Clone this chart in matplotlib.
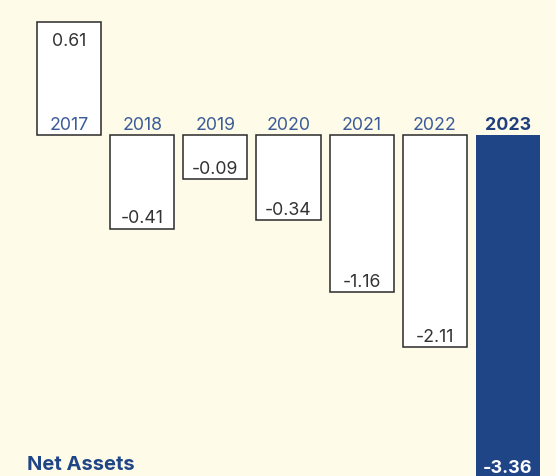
import numpy as np
import matplotlib
matplotlib.use("Agg")
import matplotlib.pyplot as plt
import matplotlib.transforms as mtransforms

years = ["2017", "2018", "2019", "2020", "2021", "2022", "2023"]
values = [0.61, -0.41, -0.09, -0.34, -1.16, -2.11, -3.36]
title = "Net Assets"

BG = "#fefbe8"
BLUE = "#1f4586"
YEAR_BLUE = "#3b5c98"
TEXT = "#333333"

plt.rcParams["font.family"] = ["Inter", "DejaVu Sans"]

fig = plt.figure(figsize=(5.56, 4.77), dpi=100, facecolor=BG)
ax = fig.add_axes([0, 0, 1, 1])
ax.set_facecolor(BG)
ax.axis("off")

def fwd(v):
    v = np.asarray(v, dtype=float)
    return np.sign(v) * np.sqrt(np.abs(v))

def inv(u):
    u = np.asarray(u, dtype=float)
    return np.sign(u) * u ** 2

ax.set_yscale("function", functions=(fwd, inv))
ax.set_xlim(-0.943, 6.656)
ax.set_ylim(-5.48, 0.880)
ymin = ax.get_ylim()[0]

x = np.arange(len(years))
width = 0.875
n = len(years)

# regular bars
ax.bar(x[:-1], values[:-1], width=width, color="white", edgecolor="#2a2a2a",
       linewidth=1.1, zorder=2)
# total bar (runs to the bottom of the panel)
ax.bar(x[-1], ymin, width=width, color=BLUE, edgecolor=BLUE, linewidth=0, zorder=2)

trans = mtransforms.blended_transform_factory(ax.transData, ax.transAxes)
for i, (yr, v) in enumerate(zip(years, values)):
    last = i == n - 1
    ax.annotate(yr, (x[i], 0), xytext=(0, 4.5), textcoords="offset points",
                ha="center", va="baseline", fontsize=12.8,
                color=("#1f3f7f" if last else YEAR_BLUE),
                fontweight=("bold" if last else "normal"), zorder=3)
    if last:
        ax.text(x[i], 0.009, f"{v:.2f}", transform=trans, ha="center", va="baseline",
                fontsize=13, fontweight="bold", color="white", zorder=3)
    elif v >= 0:
        ax.annotate(f"{v:.2f}", (x[i], v), xytext=(0, -7), textcoords="offset points",
                    ha="center", va="top", fontsize=12.8, color=TEXT, zorder=3)
    else:
        ax.annotate(f"{v:.2f}", (x[i], v), xytext=(0, 4.5), textcoords="offset points",
                    ha="center", va="baseline", fontsize=12.8, color=TEXT, zorder=3)

fig.text(27 / 556, 1 - 470 / 477, title, ha="left", va="baseline",
         fontsize=14.5, fontweight="bold", color=BLUE)

fig.savefig("out.png", dpi=100, facecolor=BG)
